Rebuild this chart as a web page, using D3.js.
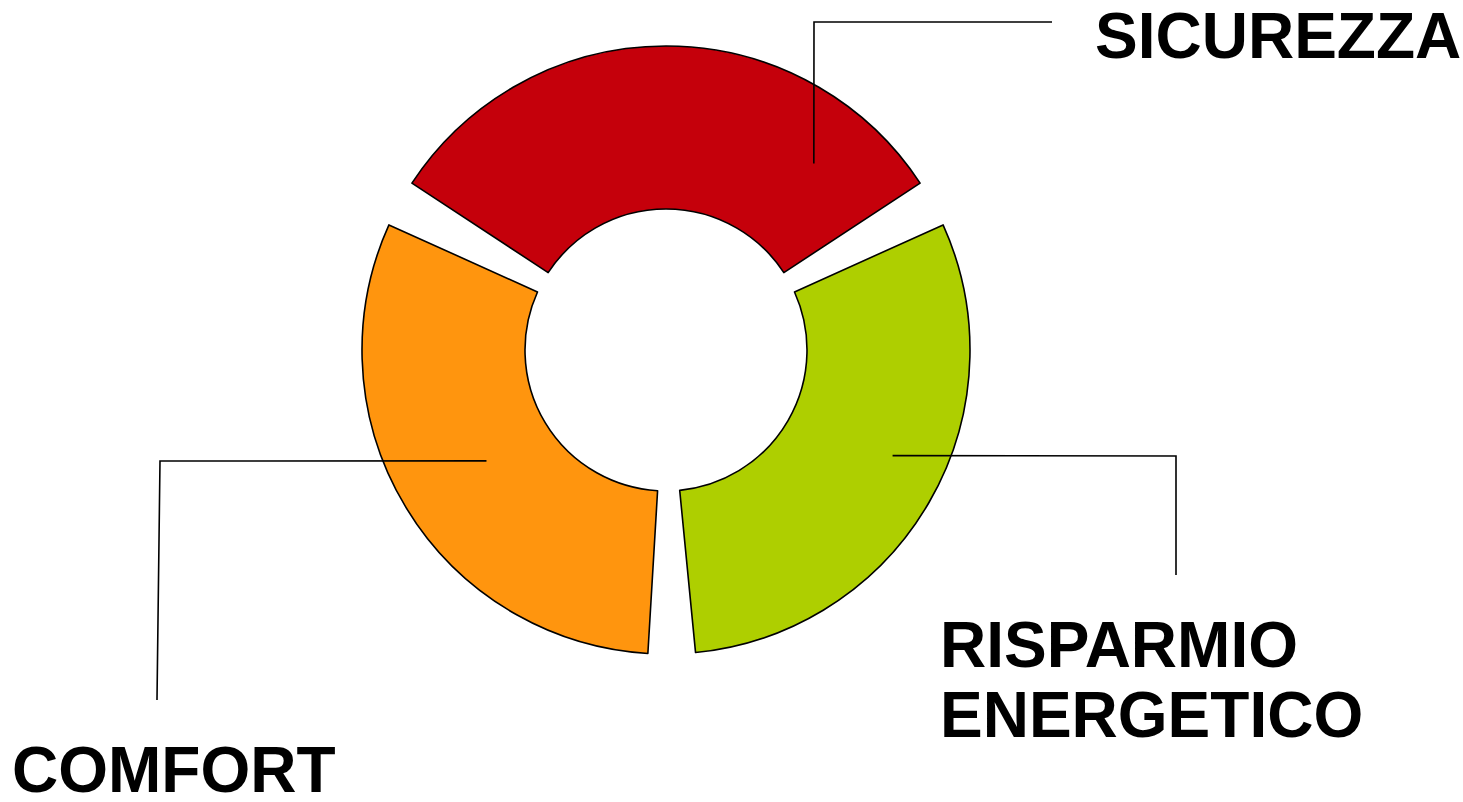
<!DOCTYPE html>
<html><head><meta charset="utf-8">
<script src="https://cdn.jsdelivr.net/npm/d3@7"></script>
<style>html,body{margin:0;padding:0;background:#fff;}svg{display:block;}</style>
</head><body>
<svg id="c" width="1463" height="802"></svg>
<script>
const categories = ["SICUREZZA", "RISPARMIO ENERGETICO", "COMFORT"];
const values = [34, 32.7, 33.3];
const colors = ["#c5000b", "#aecf00", "#ff950e"];
// label lines per category (text lines)
const labelLines = [["SICUREZZA"], ["RISPARMIO", "ENERGETICO"], ["COMFORT"]];

const W = 1463, H = 802;
const cx = 666, cy = 350, rOuter = 304, rInner = 141;
const gap = 9 * Math.PI / 180;

const svg = d3.select("#c");
const g = svg.append("g").attr("transform", `translate(${cx},${cy})`);

const total = d3.sum(values);
const pie = d3.pie().sort(null).value(d => d)
  .startAngle(-values[0] / total * Math.PI)
  .endAngle(2 * Math.PI - values[0] / total * Math.PI);
const arcs = pie(values);
const arc = d3.arc().innerRadius(rInner).outerRadius(rOuter);

g.selectAll("path.slice").data(arcs).join("path")
  .attr("class", "slice")
  .attr("d", d => arc({startAngle: d.startAngle + gap / 2, endAngle: d.endAngle - gap / 2}))
  .attr("fill", (d, i) => colors[i])
  .attr("stroke", "#000").attr("stroke-width", 1.6).attr("stroke-linejoin", "round");

// leader lines: anchor in polar (angle deg, radius), then elbow and end points (page coords)
const anchors = [
  {a: 38.4, r: 238, pts: [[814, 22], [1052, 22]]},
  {a: 115, r: 250, pts: [[1176, 456], [1176, 575]]},
  {a: 238.3, r: 211, pts: [[160, 461], [157, 700]]}
];
anchors.forEach((an, i) => {
  const t = an.a * Math.PI / 180;
  const p0 = [cx + an.r * Math.sin(t), cy - an.r * Math.cos(t)];
  svg.append("path")
    .attr("d", d3.line()([p0, ...an.pts]))
    .attr("fill", "none").attr("stroke", "#000").attr("stroke-width", 1.6);
});

// labels
const labelPos = [
  {x: 1095, y: 58},
  {x: 940, y: 667},
  {x: 12, y: 792}
];
labelLines.forEach((lines, i) => {
  const t = svg.append("text")
    .attr("font-family", "'Liberation Sans', Arial, sans-serif")
    .attr("font-weight", "bold").attr("font-size", 64).attr("fill", "#000");
  lines.forEach((ln, j) => {
    t.append("tspan").attr("x", labelPos[i].x).attr("y", labelPos[i].y + j * 70).text(ln);
  });
});
</script>
</body></html>
